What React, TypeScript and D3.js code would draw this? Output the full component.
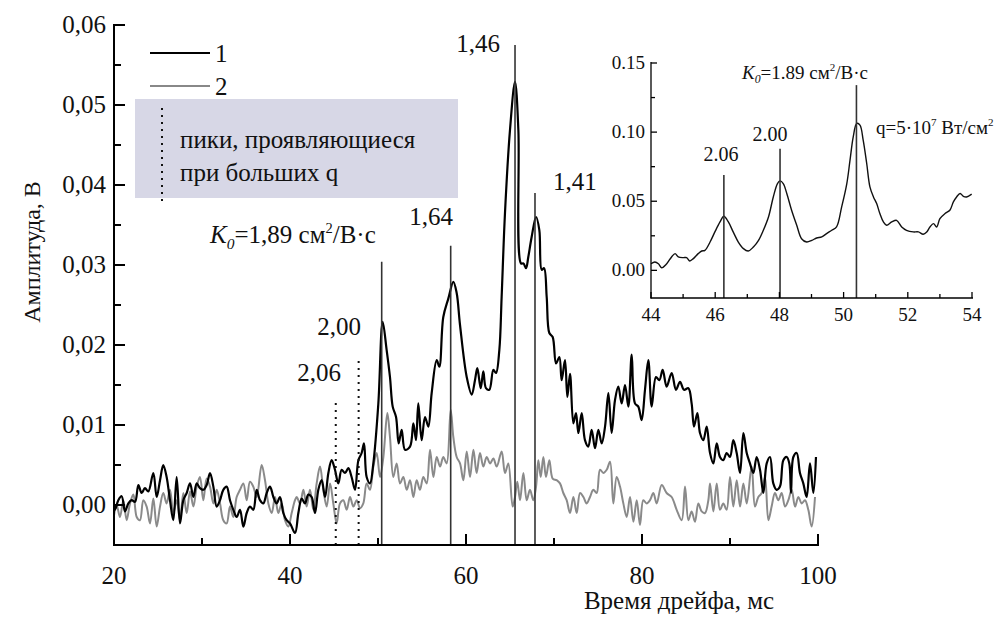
import React from "react";
import * as d3 from "d3";

// ---------- data ----------
const series1: [number, number][] = [
  [20.0,0.0],[20.11,-0.0006],[20.49,0.0006],[20.87,0.0011],[21.25,-0.0008],[21.63,0.0002],[22.01,0.0006],[22.39,0.0004],[22.77,0.0025],[23.14,0.0015],[23.52,0.0021],[23.9,0.0017],[24.47,0.004],[24.85,0.001],[25.23,0.0031],[25.6,0.005],[25.98,0.0035],[26.36,0.0006],[26.74,-0.0019],[27.12,0.0035],[27.5,-0.0023],[27.88,0.0006],[28.26,0.0015],[28.64,0.0027],[29.02,0.001],[29.4,0.0027],[29.77,0.0021],[30.15,0.0019],[30.53,0.0025],[30.91,0.004],[31.29,0.0023],[31.67,-0.0002],[32.05,0.0006],[32.42,0.0019],[32.8,0.0023],[33.18,0.0006],[33.56,-0.0006],[33.94,-0.0015],[34.32,-0.0006],[34.7,-0.0027],[35.08,-0.001],[35.45,-0.0002],[35.83,-0.0006],[36.21,0.0019],[36.59,0.0006],[36.97,0.0002],[37.35,0.0015],[37.73,0.0023],[38.11,0.001],[38.48,0.0002],[38.86,0.001],[39.24,-0.001],[39.62,-0.0019],[40.0,-0.0023],[40.57,-0.0035],[40.95,-0.001],[41.33,0.0008],[41.7,0.0002],[42.08,0.0013],[42.46,0.001],[42.84,-0.001],[43.22,0.0019],[43.6,0.0031],[43.98,0.001],[44.36,0.004],[44.73,0.0056],[45.11,0.0044],[45.49,0.0027],[45.87,0.0044],[46.25,0.004],[46.63,0.0046],[47.0,0.0035],[47.39,0.0019],[47.77,0.0056],[48.14,0.0065],[48.41,0.0077],[48.71,0.0035],[49.09,0.0027],[49.47,0.0052],[50.04,0.0127],[50.53,0.0229],[50.98,0.0194],[51.36,0.016],[51.67,0.0123],[52.05,0.011],[52.35,0.0077],[52.69,0.0094],[53.07,0.0069],[53.64,0.0073],[54.02,0.0102],[54.32,0.0081],[54.58,0.0127],[54.96,0.0081],[55.34,0.011],[55.72,0.0098],[56.1,0.014],[56.67,0.0181],[56.97,0.0173],[57.42,0.0235],[57.99,0.0258],[58.56,0.0279],[58.94,0.0265],[59.32,0.0225],[60.08,0.016],[60.65,0.0138],[61.02,0.0156],[61.29,0.0171],[61.67,0.0146],[61.97,0.0167],[62.27,0.0146],[62.65,0.0144],[63.11,0.0169],[63.41,0.0165],[63.79,0.0194],[64.05,0.026],[64.43,0.0365],[65.0,0.0469],[65.57,0.0529],[65.95,0.0469],[66.25,0.0302],[66.52,0.0302],[66.82,0.0296],[67.08,0.031],[67.46,0.0335],[67.96,0.036],[68.33,0.0344],[68.6,0.0294],[68.87,0.0296],[69.17,0.026],[69.47,0.0215],[69.85,0.021],[70.23,0.0177],[70.61,0.0185],[70.87,0.0156],[71.25,0.0181],[71.52,0.0135],[71.82,0.0164],[72.2,0.0102],[72.5,0.0115],[72.77,0.009],[73.15,0.0115],[73.52,0.0081],[73.9,0.0073],[74.28,0.0094],[74.66,0.0071],[75.04,0.0094],[75.42,0.0077],[75.8,0.0098],[76.18,0.014],[76.55,0.009],[76.93,0.0131],[77.31,0.0148],[77.69,0.0127],[78.07,0.015],[78.45,0.0123],[78.83,0.0188],[79.2,0.0127],[79.58,0.0123],[79.96,0.0106],[80.34,0.0144],[80.72,0.0181],[81.1,0.0123],[81.59,0.016],[81.97,0.0156],[82.35,0.0169],[82.8,0.0148],[83.37,0.0165],[83.86,0.0144],[84.32,0.0154],[84.77,0.0144],[85.27,0.0146],[85.64,0.0127],[85.91,0.0098],[86.29,0.0115],[86.59,0.009],[86.97,0.0081],[87.35,0.0098],[87.73,0.0065],[88.11,0.0052],[88.49,0.0077],[88.86,0.006],[89.24,0.0056],[89.62,0.0065],[90.0,0.006],[90.38,0.0081],[90.76,0.0065],[91.14,0.004],[91.52,0.009],[91.9,0.0065],[92.27,0.0052],[92.65,0.004],[93.03,0.006],[93.41,0.0044],[93.79,0.0015],[94.17,0.0052],[94.55,0.006],[94.92,0.0027],[95.3,0.0019],[95.68,0.0023],[96.06,0.0056],[96.44,0.006],[96.74,0.0052],[96.93,0.0015],[97.2,0.006],[97.58,0.0065],[97.95,0.004],[98.33,0.0027],[98.71,0.001],[99.09,0.0052],[99.47,0.0015],[99.77,0.006]
];

const series2: [number, number][] = [
  [20.0,-0.0013],[20.3,0],[20.68,-0.0015],[21.06,0.0006],[21.44,-0.0019],[21.82,0.0002],[22.2,0.0013],[22.58,-0.0015],[22.95,-0.0019],[23.33,0.0006],[23.71,-0.0002],[24.09,-0.0023],[24.47,0.0008],[24.85,-0.0027],[25.23,-0.0002],[25.6,0.0015],[25.98,0.0002],[26.36,0.0019],[26.74,-0.001],[27.12,0.0006],[27.5,-0.0019],[27.88,0.0015],[28.26,-0.001],[28.64,0.0017],[29.02,-0.0002],[29.4,0.0023],[29.77,0.0035],[30.15,0.0006],[30.53,0.0033],[30.91,0.0023],[31.29,0.0002],[31.67,0.0019],[32.05,0.0002],[32.42,-0.0019],[32.8,-0.0023],[33.18,-0.0002],[33.56,-0.0015],[33.94,0.001],[34.32,0.0019],[34.7,0.0027],[35.08,0.0006],[35.45,0.0029],[35.83,0.0023],[36.21,0.001],[36.78,0.005],[37.16,0.0031],[37.54,0.0002],[37.92,-0.001],[38.3,0.001],[38.67,-0.001],[39.05,0.0002],[39.43,-0.0019],[39.81,-0.0027],[40.19,-0.001],[40.57,0.0006],[40.76,0.001],[41.14,0.0002],[41.52,0.0019],[41.89,-0.0002],[42.27,0.0019],[42.65,-0.0006],[43.03,0.0027],[43.41,0.0048],[43.79,0.0019],[44.17,-0.0002],[44.55,0.0027],[44.92,0.0002],[45.3,-0.0023],[45.68,0.0002],[46.06,0.0006],[46.44,-0.0006],[46.82,0.001],[47.2,-0.0002],[47.58,0.0006],[47.95,-0.0004],[48.33,0.0002],[48.71,0.0027],[49.09,0.0019],[49.47,0.0048],[49.85,0.0065],[50.23,0.0035],[50.61,0.006],[51.06,0.0115],[51.36,0.0085],[51.74,0.0035],[52.12,0.0052],[52.5,0.0027],[52.88,0.0035],[53.26,0.0019],[53.64,0.0031],[54.02,0.001],[54.39,0.0031],[54.77,0.0019],[55.15,0.0035],[55.53,0.0027],[55.91,0.0069],[56.29,0.0035],[56.67,0.006],[57.05,0.0048],[57.42,0.006],[57.8,0.0052],[58.26,0.0119],[58.56,0.0085],[58.94,0.006],[59.32,0.0052],[59.7,0.0031],[60.08,0.0067],[60.46,0.0035],[60.84,0.0069],[61.21,0.004],[61.59,0.0065],[61.97,0.0048],[62.35,0.006],[62.73,0.0052],[63.11,0.0058],[63.49,0.0048],[64.05,0.0067],[64.43,0.004],[64.81,0.0052],[65.3,-0.0002],[65.57,0.001],[65.83,0.0029],[66.14,0.0006],[66.52,0.004],[66.9,0.0006],[67.27,0.0019],[67.65,0.0006],[67.96,0.0023],[68.22,0.0056],[68.49,0.0035],[68.79,0.006],[69.09,0.0035],[69.47,0.0056],[69.85,0.0033],[70.3,0.0031],[70.68,0.0027],[71.06,0.0015],[71.44,0.0006],[71.82,-0.001],[72.2,0.001],[72.58,-0.001],[72.96,0.0015],[73.34,0.001],[73.71,0.0002],[74.09,0.001],[74.47,0.0019],[74.85,0.0015],[75.23,0.0044],[75.61,0.004],[75.99,0.0044],[76.37,0.0054],[76.74,0.0002],[77.12,0.0035],[77.5,0.0023],[77.88,0.0002],[78.26,-0.0015],[78.64,0.001],[79.02,-0.0021],[79.4,0.0006],[79.77,-0.0025],[80.15,0.0006],[80.53,0.0002],[80.91,0.0006],[81.29,0.0015],[81.67,0.0002],[82.24,0.0025],[82.8,0.0015],[83.37,0.001],[83.94,-0.0006],[84.51,-0.0019],[84.89,0.0023],[85.27,-0.0019],[85.64,-0.0008],[86.02,-0.0021],[86.4,0.0002],[86.78,-0.0008],[87.16,-0.001],[87.54,0.0006],[87.73,0.0027],[88.11,-0.0008],[88.49,0.0027],[88.86,-0.0006],[89.24,0.0002],[89.62,-0.0006],[90.0,0.0035],[90.38,-0.0002],[90.76,0.0031],[91.14,-0.0002],[91.52,0.0027],[91.9,0.0002],[92.46,0.0048],[92.84,-0.0002],[93.22,0.001],[93.6,0.0015],[93.98,0.0035],[94.36,-0.0019],[94.73,-0.0002],[95.11,0.0015],[95.49,0.0006],[95.87,0.0015],[96.25,-0.0002],[96.63,0.0006],[97.01,0.0019],[97.39,-0.0002],[97.77,0.001],[98.15,0.0002],[98.52,0.0006],[98.9,-0.0006],[99.28,-0.0027],[99.66,0.001]
];

const insetSeries: [number, number][] = [
  [44.0,0.0048],[44.12,0.006],[44.23,0.0048],[44.33,0.0019],[44.49,0.0048],[44.64,0.0097],[44.75,0.0121],[44.85,0.0097],[45.01,0.0092],[45.11,0.0092],[45.21,0.0068],[45.32,0.0085],[45.47,0.0121],[45.58,0.014],[45.68,0.0145],[45.84,0.0205],[45.99,0.0278],[46.15,0.035],[46.27,0.0391],[46.41,0.035],[46.56,0.0278],[46.72,0.0205],[46.88,0.0157],[47.03,0.014],[47.19,0.0169],[47.35,0.0217],[47.5,0.029],[47.66,0.0386],[47.81,0.0531],[47.94,0.0628],[48.02,0.0647],[48.12,0.0628],[48.23,0.0556],[48.38,0.0435],[48.54,0.0326],[48.69,0.0229],[48.85,0.0205],[49.01,0.0217],[49.16,0.0234],[49.32,0.0242],[49.47,0.0266],[49.63,0.029],[49.78,0.0314],[49.94,0.0459],[50.1,0.0628],[50.2,0.0797],[50.3,0.0966],[50.41,0.1063],[50.51,0.1051],[50.61,0.0942],[50.72,0.0773],[50.82,0.0604],[50.93,0.0531],[51.03,0.0483],[51.13,0.0411],[51.24,0.035],[51.34,0.0326],[51.5,0.035],[51.65,0.0362],[51.81,0.0314],[51.96,0.029],[52.17,0.0278],[52.33,0.0278],[52.48,0.0261],[52.59,0.0278],[52.69,0.0314],[52.8,0.0338],[52.9,0.0314],[53.0,0.0374],[53.16,0.0411],[53.31,0.0435],[53.42,0.0495],[53.52,0.0531],[53.63,0.0556],[53.73,0.0536],[53.83,0.0531],[53.99,0.0551]
];

// annotation markers: [x, top value, label]
const solidMarks: [number, number, string][] = [
  [50.42, 0.0304, ""], [58.26, 0.0324, "1,64"], [65.57, 0.0575, "1,46"], [67.84, 0.039, "1,41"]
];
const dottedMarks: [number, number, string][] = [
  [45.2, 0.0131, "2,06"], [47.8, 0.0181, "2,00"]
];
const insetMarks: [number, number, string][] = [
  [46.27, 0.069, "2.06"], [48.02, 0.088, "2.00"], [50.4, 0.134, ""]
];

const xMajor = [20, 40, 60, 80, 100];
const xMinor = [30, 50, 70, 90];
const yMajor = [0, 0.01, 0.02, 0.03, 0.04, 0.05, 0.06];
const yMinor = [0.005, 0.015, 0.025, 0.035, 0.045, 0.055];
const yLabels = ["0,00", "0,01", "0,02", "0,03", "0,04", "0,05", "0,06"];

const ixMajor = [44, 46, 48, 50, 52, 54];
const ixMinor = [45, 47, 49, 51, 53];
const iyMajor = [0, 0.05, 0.1, 0.15];
const iyMinor = [0.025, 0.075, 0.125];
const iyLabels = ["0.00", "0.05", "0.10", "0.15"];

const FONT = "Liberation Serif, Times New Roman, serif";

export default function App() {
  const x = d3.scaleLinear().domain([20, 100]).range([114, 818]);
  const y = d3.scaleLinear().domain([-0.005, 0.06]).range([545, 25]);
  const ix = d3.scaleLinear().domain([44, 54]).range([651, 972]);
  const iy = d3.scaleLinear().domain([-0.02, 0.15]).range([298, 63]);

  const line = d3.line<[number, number]>().x(d => x(d[0])).y(d => y(d[1])).curve(d3.curveCatmullRom.alpha(0.5));
  const iline = d3.line<[number, number]>().x(d => ix(d[0])).y(d => iy(d[1])).curve(d3.curveCatmullRom.alpha(0.5));

  const y0 = y(-0.005);
  const iy0 = iy(-0.02);
  const fs = 25;
  const tc = "#111";
  const ts = { fontFamily: FONT };

  const kLabel = (xx: number, yy: number, size: number, txt: string) => (
    <text x={xx} y={yy} style={ts} fontSize={size} fill={tc}>
      <tspan fontStyle="italic">K</tspan>
      <tspan fontStyle="italic" fontSize={size * 0.62} dy={size * 0.22}>0</tspan>
      <tspan dy={-size * 0.22}>{txt} см</tspan>
      <tspan fontSize={size * 0.58} dy={-size * 0.4}>2</tspan>
      <tspan dy={size * 0.4}>/В·с</tspan>
    </text>
  );

  return (
    <svg width={1001} height={619} style={{ position: "absolute", left: 0, top: 0, background: "#fff" }}>
      {/* legend box */}
      <rect x={135} y={99} width={323} height={99} fill="#d7d7e6" />
      <line x1={162} x2={162} y1={108} y2={201} stroke="#111" strokeWidth={2} strokeDasharray="2 5" />
      <text x={180} y={148} style={ts} fontSize={fs} fill={tc}>пики, проявляющиеся</text>
      <text x={180} y={181} style={ts} fontSize={fs} fill={tc}>при больших q</text>
      <line x1={150} x2={210} y1={53} y2={53} stroke="#000" strokeWidth={2.2} />
      <text x={215} y={62} style={ts} fontSize={fs} fill={tc}>1</text>
      <line x1={150} x2={210} y1={86} y2={86} stroke="#888" strokeWidth={2} />
      <text x={215} y={95} style={ts} fontSize={fs} fill={tc}>2</text>

      {/* series */}
      <path d={line(series2) || ""} fill="none" stroke="#8a8a8a" strokeWidth={2} />
      <path d={line(series1) || ""} fill="none" stroke="#000" strokeWidth={2.2} />

      {/* markers */}
      {solidMarks.map((m, i) => (
        <line key={"s" + i} x1={x(m[0])} x2={x(m[0])} y1={y0} y2={y(m[1])} stroke="#333" strokeWidth={1.6} />
      ))}
      {dottedMarks.map((m, i) => (
        <line key={"d" + i} x1={x(m[0])} x2={x(m[0])} y1={y0} y2={y(m[1])} stroke="#111" strokeWidth={2} strokeDasharray="2 5" />
      ))}
      <text x={478} y={52} textAnchor="middle" style={ts} fontSize={fs} fill={tc}>{solidMarks[2][2]}</text>
      <text x={553} y={190} style={ts} fontSize={fs} fill={tc}>{solidMarks[3][2]}</text>
      <text x={431} y={225} textAnchor="middle" style={ts} fontSize={fs} fill={tc}>{solidMarks[1][2]}</text>
      <text x={339} y={335} textAnchor="middle" style={ts} fontSize={fs} fill={tc}>{dottedMarks[1][2]}</text>
      <text x={319} y={381} textAnchor="middle" style={ts} fontSize={fs} fill={tc}>{dottedMarks[0][2]}</text>
      {kLabel(210, 243, fs, "=1,89")}

      {/* main axes */}
      <line x1={114} x2={114} y1={24} y2={y0 + 1} stroke="#000" strokeWidth={2} />
      <line x1={113} x2={819} y1={y0} y2={y0} stroke="#000" strokeWidth={2} />
      {yMajor.map((v, i) => (
        <g key={"ym" + i}>
          <line x1={114} x2={125} y1={y(v)} y2={y(v)} stroke="#000" strokeWidth={2} />
          <text x={106} y={y(v) + 8} textAnchor="end" style={ts} fontSize={fs} fill={tc}>{yLabels[i]}</text>
        </g>
      ))}
      {yMinor.map((v, i) => (
        <line key={"yn" + i} x1={114} x2={121} y1={y(v)} y2={y(v)} stroke="#000" strokeWidth={2} />
      ))}
      {xMajor.map((v, i) => (
        <g key={"xm" + i}>
          <line x1={x(v)} x2={x(v)} y1={y0} y2={y0 - 11} stroke="#000" strokeWidth={2} />
          <text x={x(v)} y={584} textAnchor="middle" style={ts} fontSize={fs} fill={tc}>{v}</text>
        </g>
      ))}
      {xMinor.map((v, i) => (
        <line key={"xn" + i} x1={x(v)} x2={x(v)} y1={y0} y2={y0 - 7} stroke="#000" strokeWidth={2} />
      ))}
      <text x={679} y={609} textAnchor="middle" style={ts} fontSize={fs} fill={tc}>Время дрейфа, мс</text>
      <text transform="translate(40,252) rotate(-90)" textAnchor="middle" style={ts} fontSize={24} fill={tc}>Амплитуда, В</text>

      {/* inset */}
      <path d={iline(insetSeries) || ""} fill="none" stroke="#111" strokeWidth={1.4} />
      {insetMarks.map((m, i) => (
        <line key={"im" + i} x1={ix(m[0])} x2={ix(m[0])} y1={iy0} y2={iy(m[1])} stroke="#333" strokeWidth={1.6} />
      ))}
      <text x={721} y={161} textAnchor="middle" style={ts} fontSize={20} fill={tc}>{insetMarks[0][2]}</text>
      <text x={770} y={141} textAnchor="middle" style={ts} fontSize={20} fill={tc}>{insetMarks[1][2]}</text>
      {kLabel(742, 79, 19, "=1.89")}
      <text x={876} y={134} style={ts} fontSize={19} fill={tc}>
        <tspan>q=5·10</tspan>
        <tspan fontSize={11} dy={-8}>7</tspan>
        <tspan dy={8}> Вт/см</tspan>
        <tspan fontSize={11} dy={-8}>2</tspan>
      </text>
      <line x1={651} x2={651} y1={62} y2={iy0 + 0.5} stroke="#000" strokeWidth={1.3} />
      <line x1={650.5} x2={973} y1={iy0} y2={iy0} stroke="#000" strokeWidth={1.3} />
      {iyMajor.map((v, i) => (
        <g key={"iym" + i}>
          <line x1={651} x2={657} y1={iy(v)} y2={iy(v)} stroke="#000" strokeWidth={1.3} />
          <text x={645} y={iy(v) + 6} textAnchor="end" style={ts} fontSize={19} fill={tc}>{iyLabels[i]}</text>
        </g>
      ))}
      {iyMinor.map((v, i) => (
        <line key={"iyn" + i} x1={651} x2={655} y1={iy(v)} y2={iy(v)} stroke="#000" strokeWidth={1.3} />
      ))}
      {ixMajor.map((v, i) => (
        <g key={"ixm" + i}>
          <line x1={ix(v)} x2={ix(v)} y1={iy0} y2={iy0 - 6} stroke="#000" strokeWidth={1.3} />
          <text x={ix(v)} y={321} textAnchor="middle" style={ts} fontSize={19} fill={tc}>{v}</text>
        </g>
      ))}
      {ixMinor.map((v, i) => (
        <line key={"ixn" + i} x1={ix(v)} x2={ix(v)} y1={iy0} y2={iy0 - 4} stroke="#000" strokeWidth={1.3} />
      ))}
    </svg>
  );
}
